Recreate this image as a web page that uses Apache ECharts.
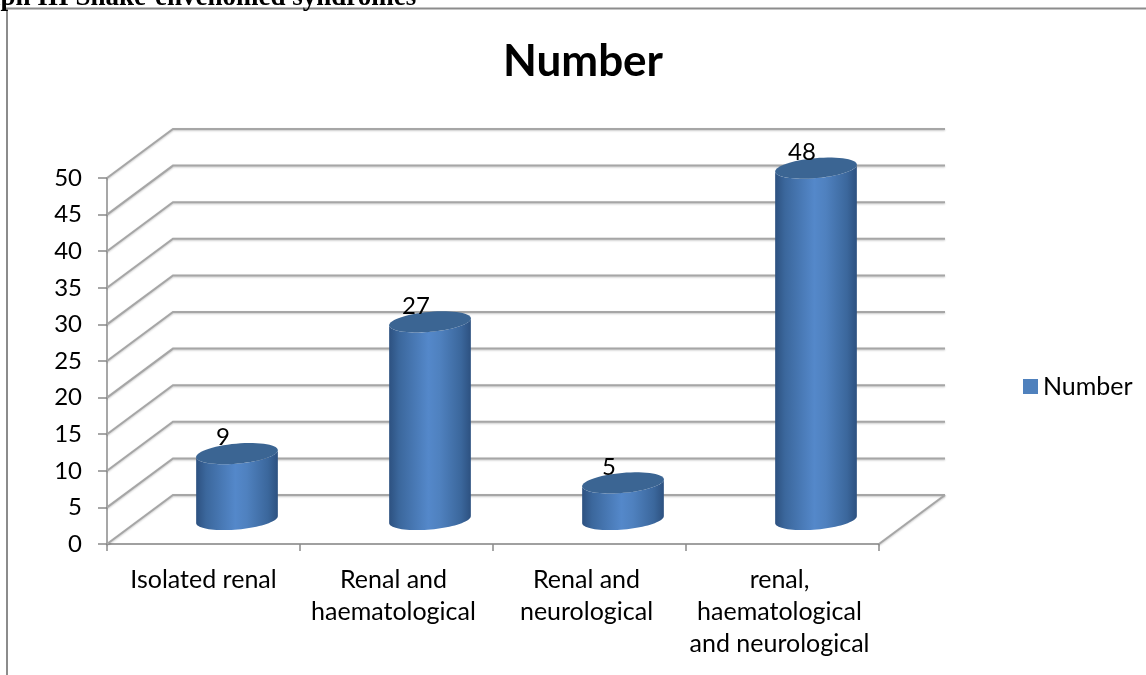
<!DOCTYPE html>
<html>
<head>
<meta charset="utf-8">
<style>html,body{margin:0;padding:0;background:#fff}#chart{width:1146px;height:675px}</style>
<script src="https://cdn.jsdelivr.net/npm/echarts@6/dist/echarts.min.js"></script>
</head>
<body>
<div id="chart"></div>
<script>
// Snake-envenomation syndrome counts, drawn as a pseudo-3D cylinder column chart.
const categories = [
  'Isolated renal',
  'Renal and\nhaematological',
  'Renal and\nneurological',
  'renal,\nhaematological\nand neurological'
];
const seriesName = 'Number';
const counts = [9, 27, 5, 48];
const wallLevels = [0, 5, 10, 15, 20, 25, 30, 35, 40, 45, 50];

// Projection of the chart's depth axis, in pixels.
const DEPTH_X = 66;
const DEPTH_Y = -49;
const FONT = 'Lato, "Open Sans", sans-serif';

const chart = echarts.init(document.getElementById('chart'), null, { renderer: 'canvas' });

// One wall line: from the front edge, back along the side wall, then across the back wall.
function renderWallLine(params, api) {
  const rect = params.coordSys;
  const y = api.coord([0, api.value(0)])[1];
  const left = rect.x;
  const right = rect.x + rect.width;
  const lineStyle = {
    stroke: '#a6a6a6', lineWidth: 2, fill: null,
    shadowColor: 'rgba(0,0,0,0.22)', shadowBlur: 2, shadowOffsetY: 1
  };
  const children = [{
    type: 'polyline',
    shape: { points: [[left, y], [left + DEPTH_X, y + DEPTH_Y], [right + DEPTH_X, y + DEPTH_Y]] },
    style: lineStyle
  }];
  if (api.value(0) === 0) {
    // The floor's right edge closes the base.
    children.push({
      type: 'line',
      shape: { x1: right, y1: y, x2: right + DEPTH_X, y2: y + DEPTH_Y },
      style: lineStyle
    });
  }
  return { type: 'group', children };
}

// A tilted ellipse outline as path points, so the cylinder's caps lean like the projection.
function ellipsePoints(cx, cy, rx, ry, tilt, from, to, n) {
  const pts = [];
  const c = Math.cos(tilt), s = Math.sin(tilt);
  for (let i = 0; i <= n; i++) {
    const t = from + (to - from) * i / n;
    const ex = rx * Math.cos(t), ey = ry * Math.sin(t);
    pts.push([cx + ex * c - ey * s, cy + ex * s + ey * c]);
  }
  return pts;
}

// One cylinder column with its value label.
function renderColumn(params, api) {
  const value = api.value(1);
  const top = api.coord([api.value(0), value]);
  const base = api.coord([api.value(0), 0]);
  const band = api.size([1, 0])[0];
  const rx = band * 0.2125;
  const ry = 10;
  const tilt = -0.09;
  const cx = top[0] + DEPTH_X / 2 + 0.5;
  const topY = top[1] + DEPTH_Y / 2;
  const baseY = base[1] + DEPTH_Y / 2;
  const body = ellipsePoints(cx, topY, rx, ry, tilt, Math.PI, 0, 40)
    .concat(ellipsePoints(cx, baseY, rx, ry, tilt, 0, Math.PI, 40));
  return {
    type: 'group',
    children: [{
      type: 'polygon',
      shape: { points: body },
      style: {
        fill: new echarts.graphic.LinearGradient(0, 0, 1, 0, [
          { offset: 0, color: '#2d5180' },
          { offset: 0.12, color: '#3b679c' },
          { offset: 0.48, color: '#5488ca' },
          { offset: 0.62, color: '#4f81bf' },
          { offset: 0.88, color: '#3b679c' },
          { offset: 1, color: '#2d5180' }
        ])
      }
    }, {
      type: 'polygon',
      shape: { points: ellipsePoints(cx, topY, rx, ry, tilt, 0, Math.PI * 2, 60) },
      style: { fill: '#3b6593' }
    }, {
      type: 'text',
      style: {
        text: String(value),
        x: cx - 14,
        y: topY - 16,
        align: 'center',
        verticalAlign: 'middle',
        fill: '#000',
        font: '24px ' + FONT
      }
    }]
  };
}

// Multi-line labels sit slightly left of their band centre.
const labelShift = { padding: [0, 6, 0, 0] };

chart.setOption({
  animation: false,
  backgroundColor: '#ffffff',
  title: {
    text: seriesName,
    left: 578,
    top: 35,
    textAlign: 'center',
    textStyle: { fontFamily: FONT, fontSize: 44, fontWeight: 'bold', color: '#000' }
  },
  legend: {
    data: [seriesName],
    left: 1018,
    top: 369,
    icon: 'rect',
    itemWidth: 15,
    itemHeight: 15,
    itemGap: 6,
    textStyle: { fontFamily: FONT, fontSize: 25, color: '#000' }
  },
  grid: { left: 107, top: 178, width: 772, height: 366 },
  xAxis: {
    type: 'category',
    data: categories.map((c, i) => (i === 0 ? c : { value: c, textStyle: labelShift })),
    boundaryGap: true,
    axisLine: { lineStyle: { color: '#a0a0a0', width: 2 } },
    axisTick: { show: true, alignWithLabel: false, length: 7, lineStyle: { color: '#8a8a8a', width: 1.5 } },
    axisLabel: { color: '#000', fontFamily: FONT, fontSize: 25, lineHeight: 32, margin: 20, interval: 0 },
    splitLine: { show: false }
  },
  yAxis: {
    type: 'value',
    min: 0,
    max: 50,
    interval: 5,
    axisLine: { show: true, lineStyle: { color: '#8a8a8a', width: 1.5 } },
    axisTick: { show: true, length: 9, lineStyle: { color: '#8a8a8a', width: 1.5 } },
    axisLabel: { color: '#000', fontFamily: FONT, fontSize: 24, margin: 25, padding: [5, 0, 0, 0] },
    splitLine: { show: false }
  },
  series: [{
    type: 'custom',
    name: 'walls',
    coordinateSystem: 'cartesian2d',
    renderItem: renderWallLine,
    data: wallLevels.map(v => [v]),
    encode: { y: 0 },
    silent: true,
    z: 1
  }, {
    type: 'custom',
    name: seriesName,
    coordinateSystem: 'cartesian2d',
    renderItem: renderColumn,
    data: counts.map((v, i) => [i, v]),
    encode: { x: 0, y: 1 },
    itemStyle: { color: '#4f81bd' },
    clip: false,
    z: 3
  }],
  graphic: [{
    // Caption running off the top edge, above the chart frame.
    type: 'text',
    left: -46,
    top: -15,
    style: { text: 'Graph III Snake-envenomed syndromes', fill: '#000', font: 'bold 27px "Liberation Serif", serif' },
    z: 10
  }, {
    // Chart frame: only its top and left edges fall inside the page.
    type: 'polyline',
    shape: { points: [[1146, 8.5], [7, 8.5], [7, 675]] },
    style: { stroke: '#8c8c8c', lineWidth: 2, fill: null },
    z: 9
  }]
});
</script>
</body>
</html>
